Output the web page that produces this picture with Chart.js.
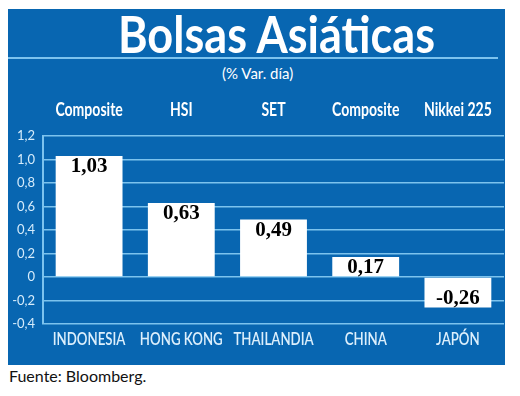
<!DOCTYPE html>
<html>
<head>
<meta charset="utf-8">
<script src="https://cdn.jsdelivr.net/npm/chart.js@4"></script>
<style>
  html, body { margin: 0; padding: 0; background: #fff; }
  body { width: 520px; height: 396px; position: relative; overflow: hidden; font-family: Lato, 'Noto Sans', sans-serif; }
  #panel { position: absolute; left: 8px; top: 9px; width: 497px; height: 356px; background: #0866b1; }
  #rule { position: absolute; left: 8px; top: 57px; width: 490px; height: 2px; background: #7cc3ee; }
  #title { position: absolute; top: 2px; left: 0; font: bold 52px Lato, sans-serif; color: #fff; white-space: nowrap; transform-origin: 0 0; }
  #sub { position: absolute; top: 64px; left: 222px; font: 15px Lato, sans-serif; color: #fff; white-space: nowrap; }
  #src { position: absolute; top: 366px; left: 9px; font: 16px Lato, sans-serif; color: #111; white-space: nowrap; }
  #wrap { position: absolute; left: 0; top: 0; width: 520px; height: 396px; }
</style>
</head>
<body>
<div id="panel"></div>
<div id="rule"></div>
<div id="title">Bolsas Asiáticas</div>
<div id="sub">(% Var. día)</div>
<div id="src">Fuente: Bloomberg.</div>
<div id="wrap"><canvas id="graph" width="520" height="396"></canvas></div>
<script>
// Datos
const paises = ['INDONESIA', 'HONG KONG', 'THAILANDIA', 'CHINA', 'JAPÓN'];
const indices = ['Composite', 'HSI', 'SET', 'Composite', 'Nikkei 225'];
const variacion = [1.03, 0.63, 0.49, 0.17, -0.26];
const yMin = -0.4;
const yMax = 1.2;
const yStep = 0.2;

const azulClaro = '#7cc3ee';

// Ajustar ancho del título
const t = document.getElementById('title');
const w = t.getBoundingClientRect().width;
t.style.transform = 'scaleX(' + (317 / w) + ')';
t.style.left = '118px';

function coma(v) {
  return v.toFixed(2).replace('.', ',');
}

// Etiquetas de valor dentro de las barras
const valorPlugin = {
  id: 'valorPlugin',
  afterDatasetsDraw: (chart) => {
    const ctx = chart.ctx;
    const meta = chart.getDatasetMeta(0);
    ctx.save();
    ctx.fillStyle = '#000';
    ctx.font = 'bold 21px "Liberation Serif", serif';
    ctx.textAlign = 'center';
    ctx.textBaseline = 'middle';
    meta.data.forEach((bar, i) => {
      const v = variacion[i];
      const y = v >= 0 ? bar.y + 11 : bar.y - 9;
      ctx.fillText(coma(v), bar.x, y);
    });
    ctx.restore();
  }
};

// Etiquetas de categoría en letra condensada (no hay fuentes estrechas instaladas)
function dibujarEtiquetas(ctx, scale, y, font, color, squeeze) {
  ctx.save();
  ctx.font = font;
  ctx.fillStyle = color;
  ctx.textAlign = 'center';
  ctx.textBaseline = 'middle';
  scale.ticks.forEach((tick, i) => {
    const x = scale.getPixelForTick(i);
    ctx.save();
    ctx.translate(x, y);
    ctx.scale(squeeze, 1);
    ctx.fillText(scale.getLabelForValue(tick.value), 0, 0);
    ctx.restore();
  });
  ctx.restore();
}

const etiquetasPlugin = {
  id: 'etiquetasPlugin',
  afterDraw: (chart) => {
    const ctx = chart.ctx;
    dibujarEtiquetas(ctx, chart.scales.x2, chart.chartArea.top - 26, 'bold 18px Lato, sans-serif', '#ffffff', 0.78);
    dibujarEtiquetas(ctx, chart.scales.x, chart.chartArea.bottom + 16, '600 17px Lato, sans-serif', '#dceffc', 0.78);
  }
};

new Chart(document.getElementById('graph'), {
  type: 'bar',
  data: {
    labels: paises,
    datasets: [{
      data: variacion,
      backgroundColor: '#ffffff',
      borderWidth: 0,
      barPercentage: 0.725,
      categoryPercentage: 1
    }]
  },
  options: {
    responsive: false,
    animation: false,
    layout: { padding: { left: 0, right: 16, top: 96, bottom: 42 } },
    plugins: { legend: { display: false }, tooltip: { enabled: false } },
    scales: {
      x: {
        position: 'bottom',
        grid: { display: false, drawTicks: false },
        border: { display: false },
        ticks: { display: false, autoSkip: false },
        afterFit: (scale) => { scale.height = 30; }
      },
      x2: {
        position: 'top',
        type: 'category',
        labels: indices,
        grid: { display: false, drawTicks: false },
        border: { display: false },
        ticks: { display: false, autoSkip: false },
        afterFit: (scale) => { scale.height = 40; }
      },
      y: {
        min: yMin,
        max: yMax,
        grid: { color: azulClaro, lineWidth: 1.6, drawTicks: false },
        border: { display: true, color: azulClaro, width: 2 },
        ticks: {
          stepSize: yStep,
          color: '#d6ecfb',
          padding: 8,
          font: { family: 'Lato, sans-serif', size: 13 },
          callback: (v) => Math.abs(v) < 1e-9 ? '0' : v.toFixed(1).replace('.', ',')
        },
        afterFit: (scale) => { scale.width = 43; }
      }
    }
  },
  plugins: [valorPlugin, etiquetasPlugin]
});
</script>
</body>
</html>
